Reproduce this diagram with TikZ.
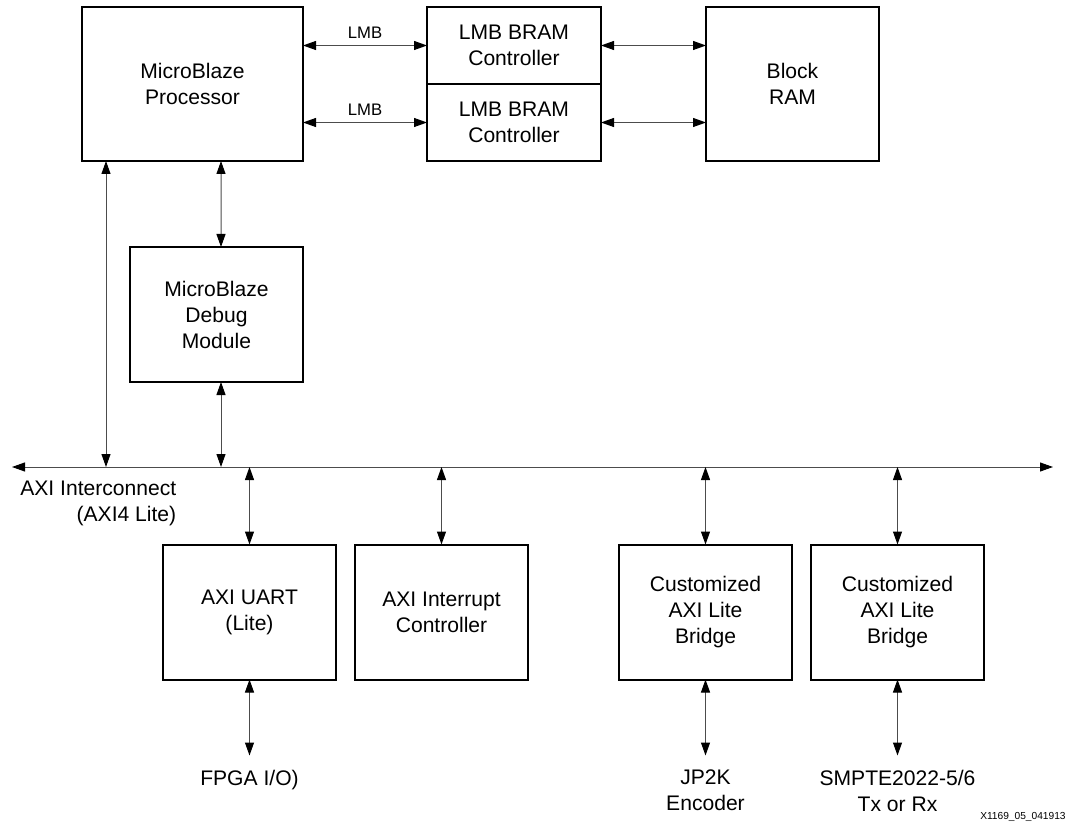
\documentclass[tikz,border=0pt]{standalone}
\usepackage{fontspec}
\setmainfont{Liberation Sans}
\usepackage{tikz}
\usetikzlibrary{arrows.meta,positioning}

\begin{document}
\begin{tikzpicture}[
    node distance=0.38cm and 0.38cm,
    >={Triangle[length=0.26cm,width=0.18cm,color=black]},
    bloque/.style={draw, line width=0.04cm, outer sep=0pt, minimum width=3.46cm, minimum height=2.7cm, align=center, font=\fontsize{12}{14.8}\selectfont},
    lmbc/.style={bloque, minimum width=3.48cm, minimum height=1.54cm},
    enlace/.style={<->, draw=black!70, line width=0.02cm},
    etq/.style={font=\fontsize{9.5}{11}\selectfont, inner sep=0.12cm},
    ext/.style={align=center, inner xsep=0pt, inner ysep=0.28cm, font=\fontsize{12}{14.8}\selectfont}
  ]
  \useasboundingbox (0,0) rectangle (21.48,-16.52);

  \node[bloque, minimum width=4.42cm, minimum height=3.08cm] (mb) at (3.85,-1.68) {MicroBlaze\\Processor};
  \node[lmbc, right=2.48cm of mb.north east, anchor=north west] (lmb1) {LMB BRAM\\Controller};
  \node[lmbc, below=0cm of lmb1] (lmb2) {LMB BRAM\\Controller};
  \node[bloque, minimum height=3.08cm, right=2.1cm of lmb1.north east, anchor=north west] (bram) {Block\\RAM};
  \node[bloque, below=1.72cm of mb.south east, anchor=north east] (mdm) {MicroBlaze\\Debug\\Module};

  \coordinate (busL) at (0.24,-9.34);
  \coordinate (busR) at (21.06,-9.34);
  \node[align=right, anchor=north west, inner sep=0pt, font=\fontsize{12}{14.8}\selectfont] (axi) at ([shift={(0.16,-0.27)}]busL) {AXI Interconnect\\(AXI4 Lite)};

  \node[bloque] (uart) at (4.99,-12.24) {AXI UART\\(Lite)};
  \node[bloque, right=0.38cm of uart] (intc) {AXI Interrupt\\Controller};
  \node[bloque, right=1.82cm of intc] (br1) {Customized\\AXI Lite\\Bridge};
  \node[bloque, right=0.38cm of br1] (br2) {Customized\\AXI Lite\\Bridge};

  \node[ext, below=1.52cm of uart] (fio) {FPGA I/O)};
  \node[ext, below=1.52cm of br1] (jp2k) {JP2K\\Encoder};
  \node[ext, below=1.52cm of br2] (smpte) {SMPTE2022-5/6\\Tx or Rx};
  \node[anchor=east, inner sep=0pt, font=\fontsize{5.8}{7}\selectfont] (fig) at (21.32,-16.34) {X1169\_05\_041913};

  \draw[enlace] (busL) -- (busR);
  \draw[enlace] (mb.east |- lmb1.west) -- (lmb1.west) node[etq, midway, above] {LMB};
  \draw[enlace] (mb.east |- lmb2.west) -- (lmb2.west) node[etq, midway, above] {LMB};
  \draw[enlace] (lmb1.east) -- (lmb1.east -| bram.west);
  \draw[enlace] (lmb2.east) -- (lmb2.east -| bram.west);
  \draw[enlace] ([xshift=2.78cm]mb.south west) -- ([xshift=0.09cm]mdm.north);
  \draw[enlace] ([xshift=0.09cm]mdm.south) -- ([xshift=0.09cm]mdm.south |- busL);
  \draw[enlace] ([xshift=0.48cm]mb.south west) -- ([xshift=0.48cm]mb.south west |- busL);
  \foreach \b in {uart, intc, br1, br2}
    \draw[enlace] (\b.north |- busL) -- (\b.north);
  \draw[enlace] (uart.south) -- (fio.north);
  \draw[enlace] (br1.south) -- (jp2k.north);
  \draw[enlace] (br2.south) -- (smpte.north);
\end{tikzpicture}
\end{document}
